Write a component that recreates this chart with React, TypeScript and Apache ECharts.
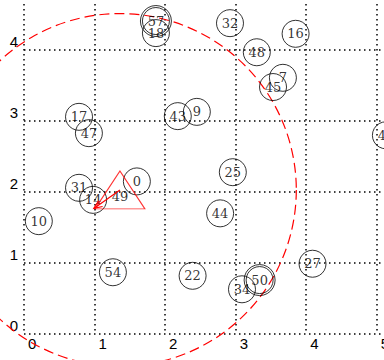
import React, { useEffect, useRef } from "react";
import * as echarts from "echarts";

const pointIds = ["0", "7", "9", "10", "14", "16", "17", "18", "22", "25", "27", "31", "32", "34", "43", "44", "45", "47", "48", "50", "54", "57", "41"];
const xValues = [1.6, 3.67, 2.45, 0.21, 0.98, 3.85, 0.78, 1.87, 2.39, 2.96, 4.09, 0.78, 2.92, 3.09, 2.18, 2.78, 3.53, 0.92, 3.3, 3.34, 1.26, 1.87, 5.13];
const yValues = [2.15, 3.61, 3.13, 1.59, 1.89, 4.23, 3.06, 4.24, 0.82, 2.28, 0.99, 2.06, 4.38, 0.63, 3.07, 1.7, 3.48, 2.83, 3.97, 0.76, 0.87, 4.41, 2.8];
const highlightedIds = ["57", "50"];

const queryId = "49";
const queryX = 1.36;
const queryY = 2.03;
const searchRadius = 2.5;
const arrowTargetX = 0.99;
const arrowTargetY = 1.77;

const xMin = 0;
const xMax = 5.5;
const yMin = 0;
const yMax = 4.65;

const labelFont = "DejaVu Serif";
const axisFont = "Liberation Sans, Arial, sans-serif";

const CHART_W = 440;
const CHART_H = 360;

export default function App() {
  const ref = useRef<HTMLDivElement>(null);
  useEffect(() => {
    if (!ref.current) return;
    const chart = echarts.init(ref.current, null, { renderer: "svg" });
    const points = pointIds.map((id, i) => ({ name: id, value: [xValues[i], yValues[i]] }));
    const highlighted = points.filter((p) => highlightedIds.includes(p.name));
    const dotted = { color: "#000", width: 1.5, type: [1.5, 3.5] as number[] };
    const gridW = Math.round(xMax * 70.6);
    chart.setOption({
      animation: false,
      grid: { left: 24, top: 4, right: CHART_W - 24 - gridW, bottom: 26, containLabel: false },
      xAxis: {
        type: "value",
        min: xMin,
        max: xMax,
        interval: 1,
        axisLine: { show: false },
        axisTick: { show: false },
        splitLine: { show: true, showMaxLine: false, lineStyle: dotted },
        axisLabel: {
          showMaxLabel: false,
          formatter: (v: number) => (Number.isInteger(v) ? String(v) : ""),
          align: "left",
          padding: [0, 0, 0, 4],
          margin: 2,
          fontSize: 15,
          color: "#000",
          fontFamily: axisFont,
        },
      },
      yAxis: {
        type: "value",
        min: yMin,
        max: yMax,
        interval: 1,
        axisLine: { show: false },
        axisTick: { show: false },
        splitLine: { show: true, showMaxLine: false, lineStyle: dotted },
        axisLabel: {
          showMaxLabel: false,
          formatter: (v: number) => (Number.isInteger(v) ? String(v) : ""),
          align: "right",
          verticalAlign: "bottom",
          padding: [0, 0, 1, 0],
          margin: 6,
          fontSize: 15,
          color: "#000",
          fontFamily: axisFont,
        },
      },
      series: [
        {
          type: "custom",
          coordinateSystem: "cartesian2d",
          clip: false,
          silent: true,
          data: [[queryX, queryY, searchRadius]],
          encode: { x: 0, y: 1 },
          renderItem: (params: any, api: any) => {
            const c = api.coord([api.value(0), api.value(1)]);
            const r = api.size([api.value(2), 0])[0];
            return {
              type: "circle",
              shape: { cx: c[0], cy: c[1], r },
              style: { fill: "none", stroke: "#ff0000", lineWidth: 1.2, lineDash: [10, 5] },
            };
          },
          z: 3,
        },
        {
          type: "scatter",
          clip: false,
          silent: true,
          symbol: "circle",
          symbolSize: 27,
          data: points,
          itemStyle: { color: "transparent", borderColor: "#000", borderWidth: 1 },
          label: {
            show: true,
            position: "inside",
            formatter: "{b}",
            color: "#000",
            fontSize: 13,
            fontFamily: labelFont,
          },
          z: 4,
        },
        {
          type: "scatter",
          clip: false,
          silent: true,
          symbol: "circle",
          symbolSize: 31,
          data: highlighted,
          itemStyle: { color: "transparent", borderColor: "#000", borderWidth: 1 },
          label: { show: false },
          z: 4,
        },
        {
          type: "scatter",
          clip: false,
          silent: true,
          symbol: "triangle",
          symbolSize: [50, 38],
          data: [{ name: queryId, value: [queryX, queryY] }],
          itemStyle: { color: "transparent", borderColor: "#ff0000", borderWidth: 1 },
          label: {
            show: true,
            position: "inside",
            formatter: "{b}",
            offset: [0, 7],
            color: "#000",
            fontSize: 13,
            fontFamily: labelFont,
          },
          z: 5,
        },
        {
          type: "custom",
          coordinateSystem: "cartesian2d",
          clip: false,
          silent: true,
          data: [[queryX, queryY, arrowTargetX, arrowTargetY]],
          encode: { x: [0, 2], y: [1, 3] },
          renderItem: (params: any, api: any) => {
            const s = api.coord([api.value(0), api.value(1)]);
            const e = api.coord([api.value(2), api.value(3)]);
            const ang = Math.atan2(e[1] - s[1], e[0] - s[0]);
            const len = 9;
            const spread = 0.4;
            const a1 = [e[0] - len * Math.cos(ang - spread), e[1] - len * Math.sin(ang - spread)];
            const a2 = [e[0] - len * Math.cos(ang + spread), e[1] - len * Math.sin(ang + spread)];
            const st = { stroke: "#ff0000", lineWidth: 1.2, fill: "none" };
            return {
              type: "group",
              children: [
                { type: "line", shape: { x1: s[0], y1: s[1], x2: e[0], y2: e[1] }, style: st },
                { type: "polyline", shape: { points: [a1, e, a2] }, style: st },
              ],
            };
          },
          z: 6,
        },
      ],
    });
    return () => chart.dispose();
  }, []);
  return (
    <div style={{ position: "absolute", left: 0, top: 0, width: 384, height: 360, overflow: "hidden", background: "#fff" }}>
      <div ref={ref} style={{ width: CHART_W, height: CHART_H }} />
    </div>
  );
}
